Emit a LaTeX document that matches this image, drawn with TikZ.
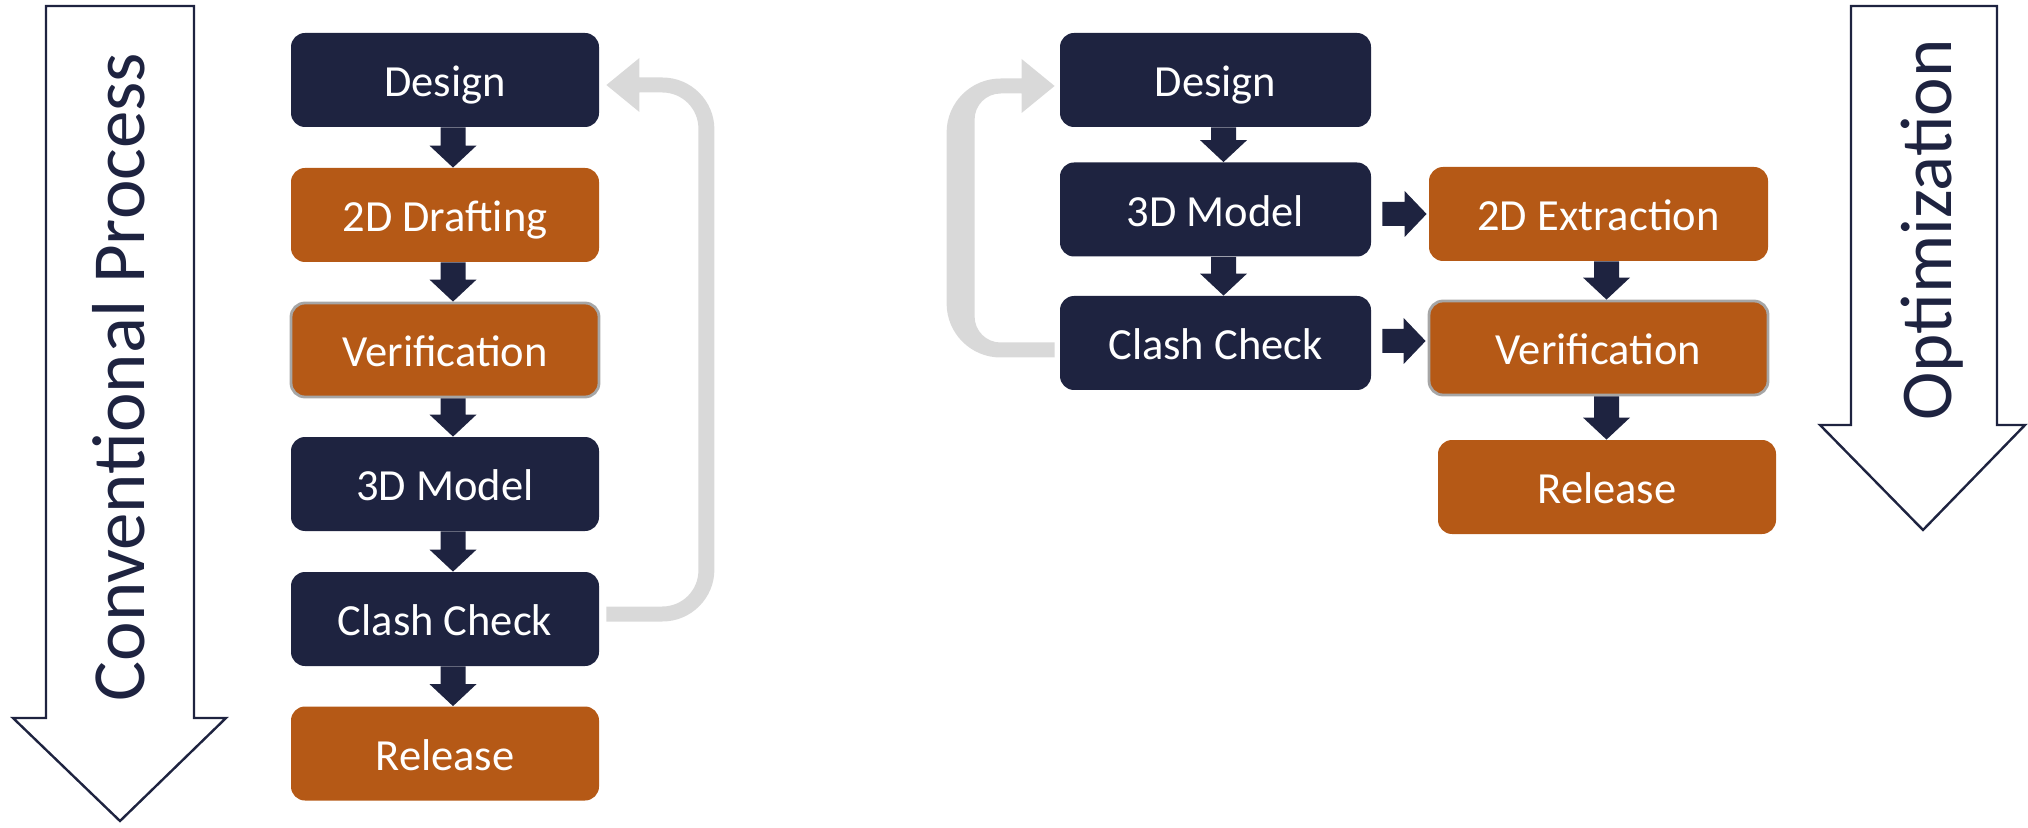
\documentclass[tikz,border=0pt]{standalone}
\usepackage{fontspec}
\setmainfont{Carlito}
\usetikzlibrary{calc}

\definecolor{navyc}{RGB}{30,35,64}
\definecolor{rustc}{RGB}{181,89,22}
\definecolor{loopc}{RGB}{217,217,217}
\definecolor{rimc}{RGB}{166,166,166}

% block arrow from the bottom of #1 down to the top of #2
\newcommand\downconn[2]{%
  \fill[navyc] let \p1=(#1.south), \p2=(#2.north) in
    (\x1-2.25pt,\y1) -- (\x1+10.25pt,\y1) -- (\x1+10.25pt,\y2+11pt)
    -- (\x1+15.75pt,\y2+11pt) -- (\x1+4pt,\y2) -- (\x1-7.75pt,\y2+11pt)
    -- (\x1-2.25pt,\y2+11pt) -- cycle;}

% block arrow from the right side of #1 to the left side of #2, axis shifted by #3
\newcommand\rightconn[3]{%
  \fill[navyc] let \p1=(#1.east), \p2=(#2.west) in
    (\x1+5.5pt,\y1+#3+6pt) -- (\x2-12pt,\y1+#3+6pt) -- (\x2-12pt,\y1+#3+11.5pt)
    -- (\x2-1pt,\y1+#3) -- (\x2-12pt,\y1+#3-11.5pt) -- (\x2-12pt,\y1+#3-6pt)
    -- (\x1+5.5pt,\y1+#3-6pt) -- cycle;}

\tikzset{
  box/.style={rounded corners=7pt, minimum width=154pt, minimum height=47pt,
    inner sep=0pt, text height=16.6pt, text depth=0pt, text=white,
    font=\fontsize{22.25pt}{26pt}\selectfont},
  navybox/.style={box, fill=navyc},
  rustbox/.style={box, fill=rustc},
  rimbox/.style={rustbox, draw=rimc, line width=1.4pt},
  bigarrow/.style={draw=navyc, line width=1.2pt, fill=white, line join=miter},
  bigtext/.style={rotate=90, anchor=base, text=navyc}
}

\begin{document}
\begin{tikzpicture}[x=0.5pt, y=-0.5pt]
\useasboundingbox (0,0) rectangle (2028,828);

% ---- conventional process ----
\draw[bigarrow] (46,6) -- (194,6) -- (194,718) -- (226,718) -- (120,821)
  -- (13,718) -- (46,718) -- cycle;
\node[bigtext, font=\fontsize{37.5pt}{40pt}\selectfont] (convlabel) at (144,377) {Conventional Process};

\node[navybox] (ld)   at (445,80)    {Design};
\node[rustbox] (l2d)  at (445,215)   {2D Drafting};
\node[rimbox]  (lver) at (445,350)   {Verification};
\node[navybox] (l3d)  at (445,484)   {3D Model};
\node[navybox] (lcc)  at (445,619)   {Clash Check};
\node[rustbox] (lrel) at (445,753.5) {Release};

\downconn{ld}{l2d}
\downconn{l2d}{lver}
\downconn{lver}{l3d}
\downconn{l3d}{lcc}
\downconn{lcc}{lrel}

% feedback loop: clash check back to design
\fill[loopc] let \p1=(lcc.east), \p2=(ld.east) in
  (\x1+3.5pt,\y1-1.25pt) -- (\x1+31.5pt,\y1-1.25pt)
  arc[start angle=-90, end angle=0, radius=26pt]
  -- (\x1+57.5pt,\y2+1.25pt-26pt)
  arc[start angle=0, end angle=90, radius=26pt]
  -- (\x2+20pt,\y2+1.25pt) -- (\x2+20pt,\y2+11pt) -- (\x2+3.5pt,\y2-2.5pt)
  -- (\x2+20pt,\y2-16pt) -- (\x2+20pt,\y2-6.25pt) -- (\x1+31.5pt,\y2-6.25pt)
  arc[start angle=90, end angle=0, radius=18pt]
  -- (\x1+49.5pt,\y1+6.25pt+18pt)
  arc[start angle=0, end angle=-90, radius=18pt]
  -- (\x1+3.5pt,\y1+6.25pt) -- cycle;

% ---- optimized process ----
\draw[bigarrow] (1851,6) -- (1997,6) -- (1997,425) -- (2025,425) -- (1923,530)
  -- (1820,425) -- (1851,425) -- cycle;
\node[bigtext, font=\fontsize{36.5pt}{40pt}\selectfont] (optlabel) at (1951,230) {Optimization};

\node[navybox, minimum width=155.5pt] (rd)   at (1215.5,80)  {Design};
\node[navybox, minimum width=155.5pt] (r3d)  at (1215.5,209.5) {3D Model};
\node[navybox, minimum width=155.5pt] (rcc)  at (1215.5,343) {Clash Check};
\node[rustbox, minimum width=169.5pt] (r2d)  at (1598.5,214) {2D Extraction};
\node[rimbox,  minimum width=169.5pt] (rver) at (1598.5,348) {Verification};
\node[rustbox, minimum width=169pt]   (rrel) at (1607,487)   {Release};

\downconn{rd}{r3d}
\downconn{r3d}{rcc}
\downconn{r2d}{rver}
\downconn{rver}{rrel}
\rightconn{r3d}{r2d}{-2.25pt}
\rightconn{rcc}{rver}{1pt}

% feedback loop: clash check back to design
\fill[loopc] let \p1=(rcc.west), \p2=(rd.west) in
  (\x1-2.5pt,\y1-7.25pt) -- (\x1-29.5pt,\y1-7.25pt)
  arc[start angle=270, end angle=180, radius=27pt]
  -- (\x1-56.5pt,\y2+0.75pt-27pt)
  arc[start angle=180, end angle=90, radius=27pt]
  -- (\x2-19pt,\y2+0.75pt) -- (\x2-19pt,\y2+10.5pt) -- (\x2-2.5pt,\y2-3pt)
  -- (\x2-19pt,\y2-16.5pt) -- (\x2-19pt,\y2-6.75pt) -- (\x1-29.5pt,\y2-6.75pt)
  arc[start angle=90, end angle=180, radius=13pt]
  -- (\x1-42.5pt,\y1+0.25pt+13pt)
  arc[start angle=180, end angle=270, radius=13pt]
  -- (\x1-2.5pt,\y1+0.25pt) -- cycle;
\end{tikzpicture}
\end{document}
